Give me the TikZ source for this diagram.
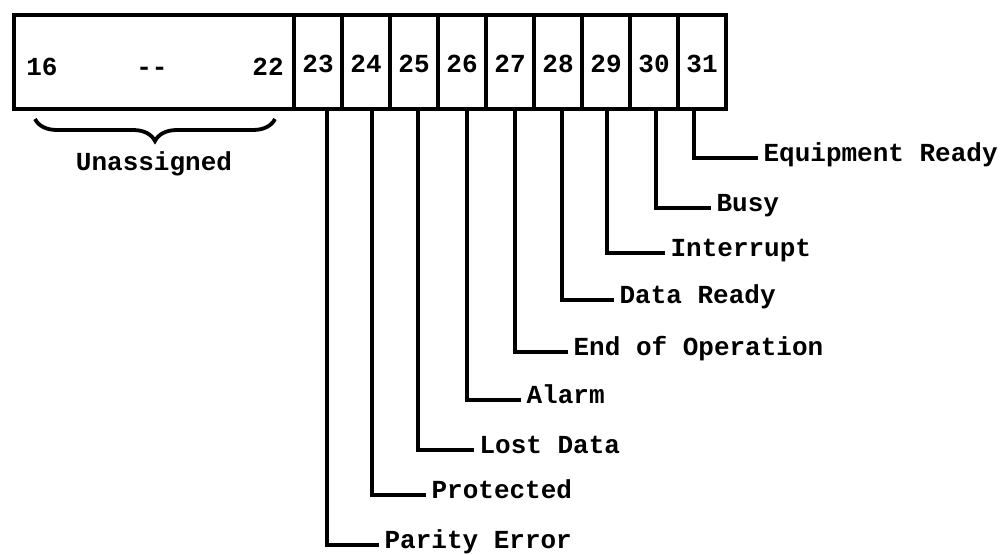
\documentclass[tikz,border=0pt]{standalone}
\usepackage{fontspec}
\newfontfamily\typefont{Liberation Mono}
\usetikzlibrary{decorations.pathreplacing}
\begin{document}
\begin{tikzpicture}[x=1pt,y=-1pt,line width=3.2pt,
  tt/.style={inner sep=0pt,font=\typefont\bfseries\fontsize{26}{26}\selectfont},
  bit/.style={draw,inner sep=0pt,minimum width=48pt,minimum height=94pt},
  flag/.style={tt,anchor=base west,inner xsep=4pt}]
\useasboundingbox (0,0) rectangle (1006,554);
% unassigned bits 16 - 22
\node [bit,minimum width=280pt] (free) at (154,62) {};
\node [tt,anchor=base] (lo) at (42,75) {16};
\node [tt,anchor=base] (dash) at (152,75) {-{}-};
\node [tt,anchor=base] (hi) at (268,75) {22};
\draw [line width=3.8pt,decorate,decoration={brace,amplitude=22pt,mirror}] (35,119) -- (275,119);
\node [tt] (unas) at (154,164) {Unassigned};
% assigned bits 23 - 31
\foreach \n/\dx/\ry/\tx/\txt [count=\i] in {
  23/9/545/383/Parity Error,
  24/6/495/430/Protected,
  25/4/450/478/Lost Data,
  26/5/400/525/Alarm,
  27/5/352/572/End of Operation,
  28/4/300/618/Data Ready,
  29/1/253/669/Interrupt,
  30/2/208/715/Busy,
  31/-8/158/762/Equipment Ready}
{
  \node [bit] (b\n) at ({318+48*(\i-1)},62) {};
  \node [tt,anchor=base] (n\n) at (b\n.center |- 0,72) {\n};
  \node [flag] (f\n) at (\tx-4,\ry+3) {\txt};
  \draw (b\n.south) ++(\dx,0) |- ([yshift=3pt]f\n.base west);
}
\end{tikzpicture}
\end{document}
